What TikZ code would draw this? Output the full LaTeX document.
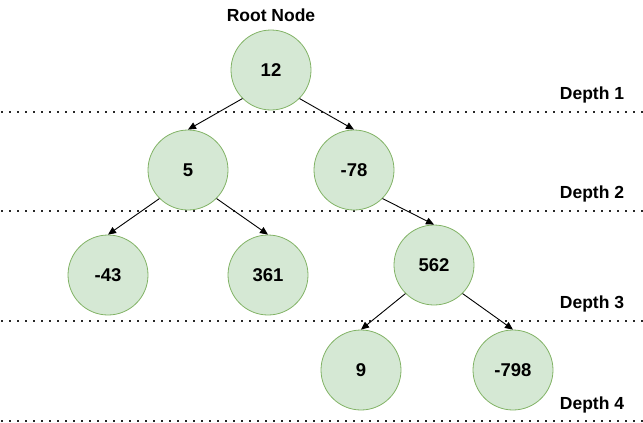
\documentclass[tikz,border=0pt]{standalone}
\usepackage{fontspec}
\setmainfont{Liberation Sans}
\usetikzlibrary{arrows.meta}
\begin{document}
\begin{tikzpicture}[x=1pt,y=-1pt,
  tnode/.style={circle, draw={rgb,255:red,130;green,179;blue,102}, fill={rgb,255:red,213;green,232;blue,212}, line width=0.8pt, minimum size=80pt, inner sep=0pt, font=\fontsize{18.5}{21}\selectfont\bfseries},
  lbl/.style={font=\fontsize{17.5}{20}\selectfont\bfseries, inner sep=0pt},
  edge/.style={draw=black, line width=0.9pt, -{Triangle[length=8pt,width=7pt]}},
  depthline/.style={line width=2pt, dash pattern=on 2pt off 6pt, draw={rgb,255:red,40;green,40;blue,40}}
]
\useasboundingbox (0,0) rectangle (643,423);
% dotted depth lines
\coordinate (l1a) at (1,112); \coordinate (l1b) at (643,112);
\coordinate (l2a) at (1,211); \coordinate (l2b) at (643,211);
\coordinate (l3a) at (1,321); \coordinate (l3b) at (643,321);
\coordinate (l4a) at (1,421); \coordinate (l4b) at (643,421);
\draw[depthline] (l1a) -- (l1b);
\draw[depthline] (l2a) -- (l2b);
\draw[depthline] (l3a) -- (l3b);
\draw[depthline] (l4a) -- (l4b);
% labels
\node[lbl] (root) at (271,15) {Root Node};
\node[lbl] (d1) at (592,95) {Depth 1};
\node[lbl] (d2) at (592,194) {Depth 2};
\node[lbl] (d3) at (592,304) {Depth 3};
\node[lbl] (d4) at (592,405) {Depth 4};
% nodes
\node[tnode] (n12) at (271,70) {12};
\node[tnode] (n5) at (188,170) {5};
\node[tnode] (n78) at (354,170) {-78};
\node[tnode] (n43) at (108,275) {-43};
\node[tnode] (n361) at (268,275) {361};
\node[tnode] (n562) at (434,265) {562};
\node[tnode] (n9) at (361,370) {9};
\node[tnode] (n798) at (513,370) {-798};
% edges
\draw[edge] (n12.south west) -- (n5.north);
\draw[edge] (n12.south east) -- (n78.north);
\draw[edge] (n5.south west) -- (n43.north);
\draw[edge] (n5.south east) -- (n361.north);
\draw[edge] (n78.south east) -- (n562.north);
\draw[edge] (n562.south west) -- (n9.north);
\draw[edge] (n562.south east) -- (n798.north);
\end{tikzpicture}
\end{document}
